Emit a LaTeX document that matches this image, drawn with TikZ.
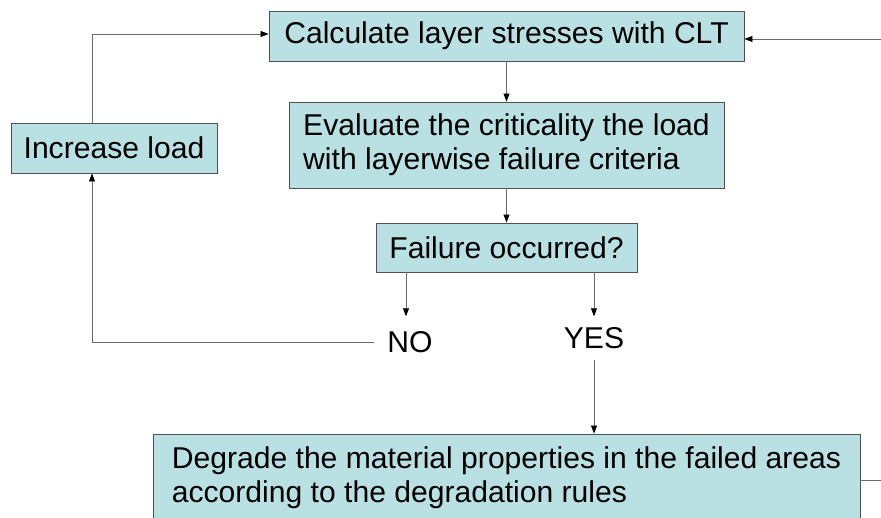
\documentclass[tikz,border=0pt]{standalone}
\usepackage{fontspec}
\setmainfont{Liberation Sans}
\usetikzlibrary{arrows.meta,calc}
\definecolor{boxfill}{HTML}{B9E0E3}
\definecolor{boxline}{HTML}{505050}
\definecolor{conn}{HTML}{6A6A6A}
\begin{document}
\begin{tikzpicture}[x=1pt,y=-1pt,
  box/.style={draw=boxline,line width=0.9pt,fill=boxfill,inner sep=0pt,
    font=\fontsize{30.1}{34}\selectfont},
  lbl/.style={font=\fontsize{30.1}{34}\selectfont},
  conline/.style={draw=conn,line width=0.7pt},
  arr/.style={conline,-{Triangle[length=8pt,width=6pt,color=black]}}]
\useasboundingbox (0,0) rectangle (881,518);
\clip (0,0) rectangle (881,518);
\node[box,minimum width=475pt,minimum height=50pt] (calc) at (506.5,36) {Calculate layer stresses with CLT};
\node[box,minimum width=206pt,minimum height=50pt] (inc) at (114,148) {Increase load};
\node[box,minimum width=435pt,minimum height=86pt,align=left] (eval) at (506.5,145)
  {Evaluate the criticality the load\\with layerwise failure criteria};
\node[box,minimum width=261pt,minimum height=49pt] (fail) at (506.5,247.5) {Failure occurred?};
\node[lbl,inner xsep=13pt,inner ysep=15pt,text depth=0pt] (no) at (410,342) {NO};
\node[lbl,inner xsep=4pt,inner ysep=11pt,text depth=0pt] (yes) at (594,338) {YES};
\node[box,minimum width=707pt,minimum height=88pt,align=left] (deg) at (506.5,478)
  {Degrade the material properties in the failed areas\\according to the degradation rules};
\coordinate (lx) at (92,0);
\coordinate (rin) at (882,39);
\coordinate (rout) at (882,480);
% connectors
\draw[arr] (calc.south) -- (eval.north);
\draw[arr] (eval.south) -- (fail.north);
\draw[arr] (fail.south -| 406,0) -- (no.north -| 406,0);
\draw[arr] (fail.south -| yes) -- (yes.north);
\draw[arr] (yes.south) -- (deg.north -| yes);
\draw[arr] (no.west) -| (inc.south -| lx);
\draw[arr] (inc.north -| lx) |- (calc.west |- 0,34);
\draw[arr] (rin) -- (calc.east |- rin);
\draw[conline] (deg.east |- rout) -- (rout);
\end{tikzpicture}
\end{document}
